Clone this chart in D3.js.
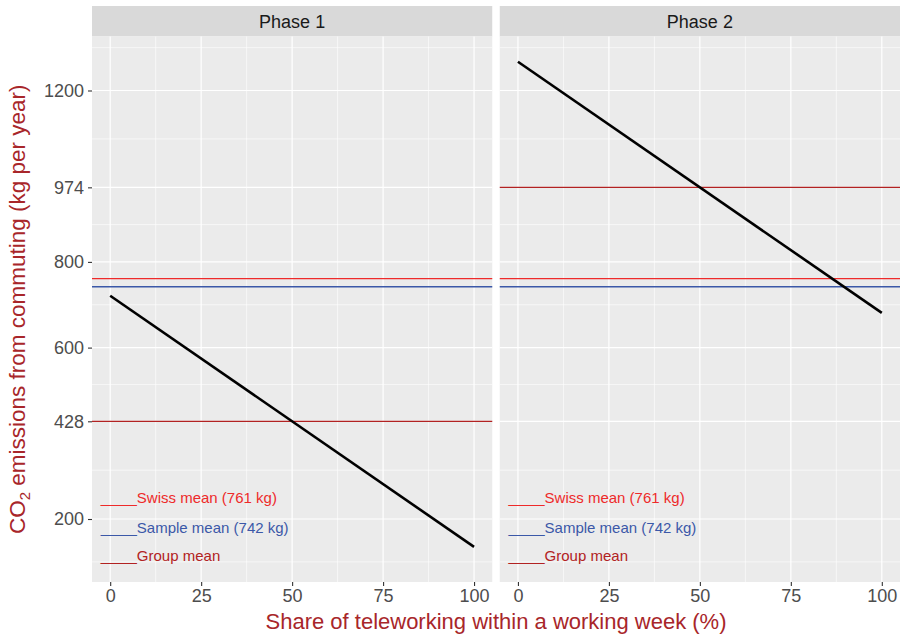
<!DOCTYPE html>
<html>
<head>
<meta charset="utf-8">
<script src="https://cdn.jsdelivr.net/npm/d3@7"></script>
<style>
  body { margin: 0; background: #fff; }
  text { font-family: "Liberation Sans", Arial, Helvetica, sans-serif; }
</style>
</head>
<body>
<script>
var width = 902,
    height = 637;

// data
var phases = ['Phase 1', 'Phase 2'];
var shareX = [0, 100];
var phase1Y = [721, 135];
var phase2Y = [1267, 681];
var groupMeans = [428, 974];
var swissMean = 761;
var sampleMean = 742;
var xTicks = [0, 25, 50, 75, 100];
var xMinor = [12.5, 37.5, 62.5, 87.5];
var yTicks = [200, 428, 600, 800, 974, 1200];
var yMinor = [100, 314, 514, 700, 887, 1087, 1300];
var legendLabels = ['Swiss mean (761 kg)', 'Sample mean (742 kg)', 'Group mean'];
var legendY = [249, 179, 114];

var swissColor = '#ee2a2a',
    sampleColor = '#3b58a8',
    groupColor = '#b22222',
    titleColor = '#a8262a';

var margin = { top: 36.5, left: 92, bottom: 55, right: 2 };
var stripH = 30.5;
var panelGap = 7.5;
var panelW = (width - margin.left - margin.right - panelGap) / 2;

var xScale = d3.scaleLinear().domain([-5, 105]).range([0, panelW]);
var yScale = d3.scaleLinear().domain([53, 1326]).range([582, margin.top]);

var series = [phase1Y, phase2Y];

var svg = d3.select('body')
  .append('svg')
  .attr('width', width)
  .attr('height', height);

phases.forEach(function(p, i) {
  var x0 = margin.left + i * (panelW + panelGap);
  var g = svg.append('g').attr('transform', 'translate(' + x0 + ',0)');

  // strip
  g.append('rect')
    .attr('x', 0).attr('y', margin.top - stripH)
    .attr('width', panelW).attr('height', stripH)
    .attr('fill', '#d9d9d9');
  g.append('text')
    .attr('x', panelW / 2).attr('y', margin.top - stripH / 2 + 6.5)
    .attr('text-anchor', 'middle')
    .style('font-size', '18px')
    .attr('fill', '#1a1a1a')
    .text(p);

  // panel
  g.append('rect')
    .attr('x', 0).attr('y', margin.top)
    .attr('width', panelW).attr('height', 582 - margin.top)
    .attr('fill', '#ebebeb');

  g.selectAll('.ymin').data(yMinor).enter().append('line')
    .attr('x1', 0).attr('x2', panelW)
    .attr('y1', d => yScale(d)).attr('y2', d => yScale(d))
    .attr('stroke', '#fff').attr('stroke-width', 0.6);
  g.selectAll('.xmin').data(xMinor).enter().append('line')
    .attr('y1', margin.top).attr('y2', 582)
    .attr('x1', d => xScale(d)).attr('x2', d => xScale(d))
    .attr('stroke', '#fff').attr('stroke-width', 0.6);
  g.selectAll('.ymaj').data(yTicks).enter().append('line')
    .attr('x1', 0).attr('x2', panelW)
    .attr('y1', d => yScale(d)).attr('y2', d => yScale(d))
    .attr('stroke', '#fff').attr('stroke-width', 1.2);
  g.selectAll('.xmaj').data(xTicks).enter().append('line')
    .attr('y1', margin.top).attr('y2', 582)
    .attr('x1', d => xScale(d)).attr('x2', d => xScale(d))
    .attr('stroke', '#fff').attr('stroke-width', 1.2);

  // reference lines
  var hlines = [
    { v: swissMean, c: swissColor },
    { v: sampleMean, c: sampleColor },
    { v: groupMeans[i], c: groupColor }
  ];
  g.selectAll('.hl').data(hlines).enter().append('line')
    .attr('x1', 0).attr('x2', panelW)
    .attr('y1', d => yScale(d.v)).attr('y2', d => yScale(d.v))
    .attr('stroke', d => d.c).attr('stroke-width', 1.3);

  // regression line
  var line = d3.line()
    .x(d => xScale(d[0]))
    .y(d => yScale(d[1]));
  g.append('path')
    .datum(shareX.map((x, j) => [x, series[i][j]]))
    .attr('d', line)
    .attr('fill', 'none')
    .attr('stroke', '#000')
    .attr('stroke-width', 2.6);

  // legend annotations
  var lc = [swissColor, sampleColor, groupColor];
  var lg = g.selectAll('.lg').data(legendLabels).enter().append('text')
    .attr('x', xScale(-2.6))
    .attr('y', (d, j) => yScale(legendY[j]) + 5)
    .style('font-size', '15px')
    .attr('fill', (d, j) => lc[j]);
  lg.append('tspan').style('letter-spacing', '-1.4px').text('_____');
  lg.append('tspan').attr('dx', 1.4).text(d => d);

  // x axis
  var xAxis = d3.axisBottom(xScale).tickValues(xTicks).tickSize(4).tickPadding(3);
  var ax = g.append('g')
    .attr('transform', 'translate(0,582)')
    .call(xAxis);
  ax.select('.domain').remove();
  ax.selectAll('line').attr('stroke', '#333').attr('stroke-width', 1.1);
  ax.selectAll('text').attr('fill', '#4d4d4d').style('font-size', '18px');

  if (i === 0) {
    var yAxis = d3.axisLeft(yScale).tickValues(yTicks).tickFormat(d3.format('d'))
      .tickSize(4).tickPadding(4);
    var ay = g.append('g').call(yAxis);
    ay.select('.domain').remove();
    ay.selectAll('line').attr('stroke', '#333').attr('stroke-width', 1.1);
    ay.selectAll('text').attr('fill', '#4d4d4d').style('font-size', '18px');
  }
});

// axis titles
svg.append('text')
  .attr('x', margin.left + (width - margin.left - margin.right) / 2)
  .attr('y', 629)
  .attr('text-anchor', 'middle')
  .attr('fill', titleColor)
  .style('font-size', '22px')
  .text('Share of teleworking within a working week (%)');

var yt = svg.append('text')
  .attr('transform', 'translate(25,' + ((margin.top + 582) / 2) + ') rotate(-90)')
  .attr('text-anchor', 'middle')
  .attr('fill', titleColor)
  .style('font-size', '22.5px');
yt.append('tspan').text('CO');
yt.append('tspan').attr('dy', 5).style('font-size', '15px').text('2');
yt.append('tspan').attr('dy', -5).text(' emissions from commuting (kg per year)');
</script>
</body>
</html>
